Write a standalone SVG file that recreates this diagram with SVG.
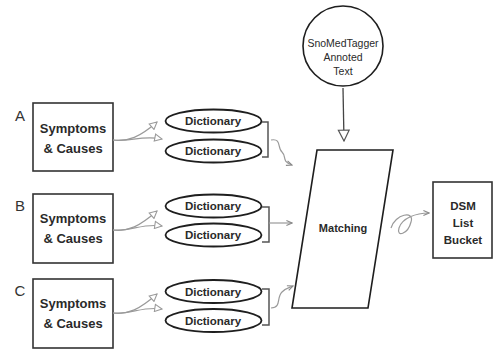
<svg xmlns="http://www.w3.org/2000/svg" width="495" height="349" viewBox="0 0 495 349">
<style>
text{font-family:"Liberation Sans",Arial,sans-serif;fill:#2a2a2a;text-anchor:middle}
.b{font-weight:bold}
.s13{font-size:13px}
.s11{font-size:11.5px}
.box{fill:#fff;stroke:#333;stroke-width:1.6}
.ell{fill:#fff;stroke:#1e1e1e;stroke-width:1.8}
.sh{fill:#fff;stroke:#1e1e1e;stroke-width:1.6}
.br{fill:none;stroke:#555;stroke-width:1.5}
.g{fill:none;stroke:#9a9a9a;stroke-width:1.2}
.lt{font-size:15px;fill:#333}
</style>
<defs>
<marker id="tri" viewBox="0 0 10 10" refX="9" refY="5" markerWidth="9" markerHeight="9" markerUnits="userSpaceOnUse" orient="auto">
<path d="M1,1 L9,5 L1,9 Z" fill="#fff" stroke="#9a9a9a" stroke-width="1.2"/>
</marker>
<marker id="sm" viewBox="0 0 10 10" refX="9" refY="5" markerWidth="7" markerHeight="7" markerUnits="userSpaceOnUse" orient="auto">
<path d="M1,1.5 L9,5 L1,8.5" fill="none" stroke="#8a8a8a" stroke-width="1.6"/>
</marker>
<marker id="dn" viewBox="0 0 12 12" refX="11" refY="6" markerWidth="13" markerHeight="13" markerUnits="userSpaceOnUse" orient="auto">
<path d="M1,1 L11,6 L1,11 Z" fill="#fff" stroke="#555" stroke-width="1.1"/>
</marker>
</defs>

<g id="labels">
<text class="lt" x="20" y="121">A</text>
<text class="lt" x="20" y="211">B</text>
<text class="lt" x="20" y="296">C</text>
</g>

<g id="boxA"><rect class="box" x="33" y="103" width="80" height="68"/>
<text class="b s13" x="73" y="133">Symptoms</text><text class="b s13" x="73" y="153">&amp; Causes</text></g>
<g id="boxB"><rect class="box" x="33" y="194" width="80" height="69"/>
<text class="b s13" x="73" y="223">Symptoms</text><text class="b s13" x="73" y="243">&amp; Causes</text></g>
<g id="boxC"><rect class="box" x="33" y="279" width="80" height="69"/>
<text class="b s13" x="73" y="308">Symptoms</text><text class="b s13" x="73" y="328">&amp; Causes</text></g>

<g id="dictA1"><ellipse class="ell" cx="213.5" cy="121" rx="48" ry="11.5"/><text class="b s11" x="213" y="125">Dictionary</text></g>
<g id="dictA2"><ellipse class="ell" cx="213.5" cy="151" rx="48" ry="11.5"/><text class="b s11" x="213" y="155">Dictionary</text></g>
<g id="dictB1"><ellipse class="ell" cx="213.5" cy="206" rx="48" ry="11.5"/><text class="b s11" x="213" y="210">Dictionary</text></g>
<g id="dictB2"><ellipse class="ell" cx="213.5" cy="235" rx="48" ry="11.5"/><text class="b s11" x="213" y="239">Dictionary</text></g>
<g id="dictC1"><ellipse class="ell" cx="213.5" cy="291.5" rx="48" ry="11.5"/><text class="b s11" x="213" y="295.5">Dictionary</text></g>
<g id="dictC2"><ellipse class="ell" cx="213.5" cy="320.5" rx="48" ry="11.5"/><text class="b s11" x="213" y="324.5">Dictionary</text></g>

<g id="snomed"><circle class="sh" cx="343" cy="46" r="40"/>
<text x="343" y="47" style="font-size:10.5px">SnoMedTagger</text>
<text x="343" y="61" style="font-size:10.5px">Annoted</text>
<text x="343" y="75" style="font-size:10.5px">Text</text></g>

<g id="matching"><path class="sh" d="M317,150 L393,150 L368,308 L292,308 Z"/>
<text class="b" x="343" y="232" style="font-size:11px">Matching</text></g>

<g id="dsm"><rect class="box" x="433" y="182" width="59" height="76"/>
<text class="b" x="463" y="210" style="font-size:11.5px">DSM</text>
<text class="b" x="463" y="227" style="font-size:11.5px">List</text>
<text class="b" x="463" y="244" style="font-size:11.5px">Bucket</text></g>

<g id="connectors">
<path class="g" d="M113,140 C128,142 140,137 157,122" marker-end="url(#tri)"/>
<path class="g" d="M113,140 C130,142 142,135 162,139" marker-end="url(#tri)"/>
<path class="g" d="M113,230 C128,232 140,226 157,211" marker-end="url(#tri)"/>
<path class="g" d="M113,230 C130,232 142,223 162,226" marker-end="url(#tri)"/>
<path class="g" d="M113,313 C128,315 140,309 157,294" marker-end="url(#tri)"/>
<path class="g" d="M113,313 C130,315 142,306 162,309" marker-end="url(#tri)"/>

<path class="br" d="M262,122 H268 V157 H262"/>
<path class="br" d="M262,207 H269 V242 H262"/>
<path class="br" d="M262,289 H269 V325 H262"/>

<path class="g" d="M271,140 C282,138 277,148 282,152 C287,157 281,161 292,165" marker-end="url(#sm)"/>
<path class="g" d="M269,223 H292" marker-end="url(#sm)"/>
<path class="g" d="M271,308 C282,307 276,298 282,292 C286,288 288,288 293,286" marker-end="url(#sm)"/>

<path fill="none" stroke="#444" stroke-width="1.3" d="M343,88 L344,141" marker-end="url(#dn)"/>

<path class="g" d="M391,228 C395,214 415,210 411,222 C408,234 396,238 399,228 C402,218 416,213 429,213" marker-end="url(#sm)"/>
</g>
</svg>
